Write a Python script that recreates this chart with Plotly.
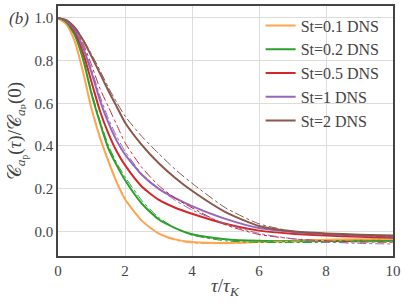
import plotly.graph_objects as go

tau = [0, 0.25, 0.5, 0.75, 1, 1.25, 1.5, 1.75, 2, 2.5, 3, 3.5, 4, 5, 6, 7, 8, 9, 10]

labels = ["St=0.1 DNS", "St=0.2 DNS", "St=0.5 DNS", "St=1 DNS", "St=2 DNS"]
colors = ["#ffa54f", "#2ca02c", "#d62728", "#9467bd", "#8c564b"]

dns_st01 = [1, 0.97, 0.89, 0.745, 0.575, 0.44, 0.33, 0.23, 0.15, 0.05, -0.01, -0.038, -0.05, -0.055, -0.05, -0.045, -0.04, -0.037, -0.035]
dns_st02 = [1, 0.98, 0.92, 0.805, 0.645, 0.51, 0.39, 0.31, 0.24, 0.13, 0.056, 0.015, -0.014, -0.037, -0.045, -0.047, -0.046, -0.045, -0.044]
dns_st05 = [1, 0.985, 0.935, 0.835, 0.70, 0.565, 0.46, 0.375, 0.31, 0.21, 0.148, 0.11, 0.082, 0.035, 0.003, -0.012, -0.02, -0.026, -0.03]
dns_st1 = [1, 0.985, 0.945, 0.86, 0.745, 0.615, 0.51, 0.425, 0.36, 0.265, 0.2, 0.155, 0.118, 0.058, 0.015, -0.003, -0.013, -0.02, -0.025]
dns_st2 = [1, 0.99, 0.955, 0.895, 0.82, 0.74, 0.66, 0.585, 0.51, 0.405, 0.32, 0.25, 0.19, 0.09, 0.025, 0.0, -0.01, -0.016, -0.02]

mod_st01 = [1, 0.97, 0.89, 0.75, 0.58, 0.445, 0.335, 0.235, 0.155, 0.05, -0.012, -0.042, -0.055, -0.058, -0.052, -0.047, -0.043, -0.04, -0.038]
mod_st02 = [1, 0.98, 0.92, 0.81, 0.655, 0.52, 0.405, 0.32, 0.255, 0.145, 0.065, 0.015, -0.018, -0.045, -0.052, -0.053, -0.052, -0.05, -0.048]
mod_st05 = [1, 0.99, 0.95, 0.88, 0.78, 0.67, 0.585, 0.5, 0.415, 0.3, 0.215, 0.155, 0.11, 0.03, -0.015, -0.035, -0.045, -0.05, -0.052]
mod_st1 = [1, 0.99, 0.95, 0.87, 0.76, 0.635, 0.53, 0.445, 0.375, 0.27, 0.2, 0.145, 0.1, 0.035, -0.01, -0.035, -0.05, -0.057, -0.06]
mod_st2 = [1, 0.99, 0.96, 0.9, 0.83, 0.755, 0.675, 0.605, 0.54, 0.445, 0.365, 0.29, 0.225, 0.11, 0.035, 0.0, -0.015, -0.022, -0.026]

dns = [dns_st01, dns_st02, dns_st05, dns_st1, dns_st2]
mod = [mod_st01, mod_st02, mod_st05, mod_st1, mod_st2]

xticks = [0, 2, 4, 6, 8, 10]
yticks = [0.0, 0.2, 0.4, 0.6, 0.8, 1.0]

serif = "Liberation Serif, DejaVu Serif, serif"
txt = "#444"

fig = go.Figure()
for lab, col, d in zip(labels, colors, dns):
    fig.add_trace(go.Scatter(x=tau, y=d, mode="lines", name=lab,
                             line=dict(color=col, width=2, shape="spline", smoothing=0.6)))
for col, m in zip(colors, mod):
    fig.add_trace(go.Scatter(x=tau, y=m, mode="lines", showlegend=False,
                             line=dict(color=col, width=1, dash="dashdot", shape="spline", smoothing=0.6)))

fig.update_layout(
    width=407, height=304,
    margin=dict(l=58, r=14, t=6, b=48, autoexpand=False),
    paper_bgcolor="white", plot_bgcolor="white",
    font=dict(family=serif, size=15, color=txt),
    legend=dict(x=0.975, y=0.99, xanchor="right", yanchor="top", bgcolor="rgba(0,0,0,0)",
                font=dict(family=serif, size=16, color=txt), tracegroupgap=0,
                itemwidth=30),
    annotations=[
        dict(text="<i>(b)</i>", xref="paper", yref="paper", x=-0.152, y=0.952,
             xanchor="left", yanchor="middle", showarrow=False,
             font=dict(family=serif, size=17, color=txt)),
        dict(text="𝒞<sub><i>a</i><sub>p</sub></sub>(<i>τ</i>)/𝒞<sub><i>a</i>ₚ</sub>(0)",
             xref="paper", yref="paper", x=-0.122, y=0.5, textangle=-90,
             xanchor="center", yanchor="middle", showarrow=False,
             font=dict(family=serif, size=19, color=txt)),
        dict(text="<i>τ</i>/<i>τ</i><sub><i>K</i></sub>", xref="paper", yref="paper",
             x=0.5, y=-0.124, xanchor="center", yanchor="middle", showarrow=False,
             font=dict(family=serif, size=19, color=txt)),
    ],
)
fig.update_xaxes(range=[0, 10], tickvals=xticks, ticktext=[str(v) for v in xticks],
                 showgrid=True, gridcolor="#dcdcdc", gridwidth=1, zeroline=False,
                 showline=True, linecolor="#444", linewidth=1.7, mirror=True, ticks="",
                 automargin=False)
fig.update_yaxes(range=[-0.116, 1.056], tickvals=yticks, ticktext=["%.1f" % v for v in yticks],
                 showgrid=True, gridcolor="#dcdcdc", gridwidth=1, zeroline=False,
                 showline=True, linecolor="#444", linewidth=1.7, mirror=True, ticks="",
                 automargin=False)

fig.write_html("out.html", config={"displayModeBar": False},
               post_script="document.body.style.margin='0';")
